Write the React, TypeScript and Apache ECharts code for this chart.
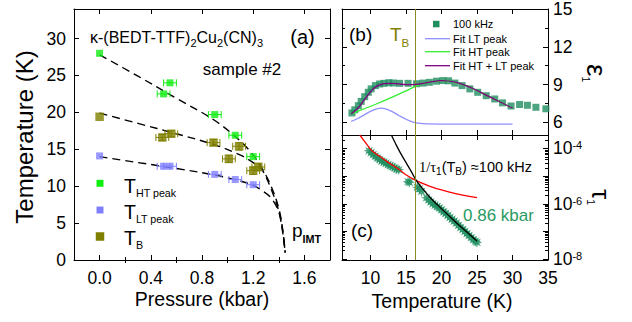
import React, { useEffect, useRef } from "react";
import * as echarts from "echarts";

const SANS = "'Liberation Sans', Arial, Helvetica, sans-serif";
const SERIF = "'Liberation Serif', 'Times New Roman', serif";

// ---------------- Panel (a): p-T phase diagram ----------------
const htPressure = [0.0, 0.5, 0.55, 0.9, 1.06, 1.2];
const htTemperature = [28.0, 22.5, 24.0, 19.7, 16.9, 14.0];
const htPressureErr = [0, 0.05, 0.05, 0.05, 0.05, 0.05];

const ltPressure = [0.0, 0.5, 0.55, 0.9, 1.06, 1.2];
const ltTemperature = [14.1, 12.7, 12.7, 11.6, 10.9, 10.2];
const ltPressureErr = [0, 0.05, 0.05, 0.05, 0.05, 0.05];

const tbPressure = [0.0, 0.49, 0.56, 0.89, 1.09, 1.01, 1.2, 1.24];
const tbTemperature = [19.4, 16.6, 17.1, 15.9, 15.4, 13.7, 12.1, 12.6];
const tbPressureErr = [0, 0.05, 0.05, 0.05, 0.05, 0.05, 0.05, 0.05];
const tbTemperatureErr = [0, 0.4, 0.4, 0.4, 0.5, 0.5, 0.5, 0.5];

const guidePressure = [0, 0.3, 0.6, 0.9, 1.1, 1.2, 1.27, 1.34, 1.4, 1.43, 1.45];
const htGuide = [27.8, 24.9, 21.9, 18.9, 16.1, 14.2, 12.4, 10.0, 7.0, 4.2, 1.0];
const tbGuide = [19.9, 18.5, 17.1, 15.6, 14.2, 13.2, 12.2, 9.6, 6.6, 3.8, 1.0];
const ltGuide = [14.0, 13.2, 12.4, 11.5, 10.7, 10.1, 9.4, 8.4, 6.5, 4.0, 1.0];

const pressureLabels = [0, 0.4, 0.8, 1.2, 1.6];
const pressureMinorTicks = [0.2, 0.6, 1.0, 1.4];
const temperatureLabelsA = [0, 5, 10, 15, 20, 25, 30];

// ---------------- Panel (b): epsilon_1(T) ----------------
const epsTemperature = [7.4, 7.8, 8.3, 8.7, 9.2, 9.7, 10.1, 10.7, 11.3, 11.9, 12.6, 13.2, 14.1, 15.3, 16.5, 17.4, 18.3, 19.3, 20.2, 21.0, 21.9, 22.9, 24.0, 25.1, 26.3, 27.5, 28.6, 29.8, 31.0, 32.1, 33.3, 34.7];
const epsValues = [6.75, 7.0, 7.33, 7.67, 8.04, 8.39, 8.66, 8.92, 9.05, 9.1, 9.15, 9.13, 9.1, 9.1, 9.07, 9.12, 9.18, 9.27, 9.32, 9.3, 9.12, 8.92, 8.66, 8.39, 8.12, 7.86, 7.55, 7.3, 7.42, 7.36, 7.2, 7.08];

const ltFitTemperature = [7.3, 8, 9, 10, 11, 11.5, 12, 13, 14, 15, 16, 17, 18, 20, 25, 30];
const ltFitValues = [6.08, 6.25, 6.55, 6.88, 7.1, 7.14, 7.1, 6.88, 6.55, 6.25, 6.03, 5.92, 5.88, 5.87, 5.87, 5.87];
const htFitTemperature = [7.3, 9, 11, 13, 15, 16.5, 18, 20, 22, 24, 26, 28, 30];
const htFitValues = [6.67, 7.05, 7.5, 7.98, 8.5, 8.9, 9.15, 9.32, 9.2, 8.8, 8.25, 7.7, 7.13];
const sumFitTemperature = [7.3, 8, 8.5, 9, 9.7, 10.3, 10.9, 11.5, 12, 13, 14, 15, 16.5, 18, 20, 22, 24, 26, 28, 30];
const sumFitValues = [6.67, 7.0, 7.3, 7.68, 8.2, 8.6, 8.88, 9.02, 9.08, 9.1, 9.05, 9.0, 9.02, 9.15, 9.32, 9.2, 8.8, 8.25, 7.7, 7.13];

const epsLabels = [6, 9, 12, 15];
const epsMinorTicks = [7.5, 10.5, 13.5];
const temperatureTicksBC = [10, 15, 20, 25, 30];
const temperatureLabelsBC = [10, 15, 20, 25, 30, 35];

const blockingTemperature = 16.3;

// ---------------- Panel (c): tau_1(T) ----------------
const starTemperature = [9.8, 10.1, 10.4, 10.7, 11.0, 11.3, 11.6, 11.9, 12.2, 12.5, 12.8, 13.1, 13.4, 13.7, 14.0, 15.3, 15.5, 16.6, 16.9, 17.2, 17.9, 18.2, 18.5, 18.8, 19.1, 19.4, 19.7, 20.0, 20.3, 20.6, 20.9, 21.2, 21.5, 21.8, 22.1, 22.4, 22.7, 23.0, 23.3, 23.6, 23.9, 24.2, 24.5, 24.8, 25.0];
const starTau = [8.3e-5, 7.2e-5, 6.0e-5, 5.3e-5, 4.5e-5, 4.0e-5, 3.5e-5, 3.2e-5, 2.95e-5, 2.6e-5, 2.4e-5, 2.2e-5, 2.0e-5, 1.8e-5, 1.7e-5, 6.3e-6, 6.0e-6, 4.0e-6, 3.5e-6, 2.8e-6, 1.66e-6, 1.38e-6, 1.17e-6, 1.0e-6, 8.9e-7, 7.9e-7, 7.1e-7, 6.0e-7, 5.1e-7, 4.5e-7, 3.8e-7, 3.2e-7, 2.75e-7, 2.35e-7, 2.0e-7, 1.66e-7, 1.38e-7, 1.17e-7, 1.0e-7, 8.3e-8, 7.1e-8, 6.0e-8, 5.0e-8, 4.4e-8, 4.0e-8];

const redTemperature = [8.5, 9.5, 10.1, 11.3, 12.5, 14.1, 15.0, 16.3, 18.3, 20.0, 22.0, 25.0];
const redTau = [3.1e-4, 1.41e-4, 8.9e-5, 5.25e-5, 3.16e-5, 1.7e-5, 1.12e-5, 7.2e-6, 4.4e-6, 3.16e-6, 2.34e-6, 1.66e-6];
const blackTemperature = [12.95, 13.5, 14.2, 15.0, 15.8, 16.4, 17.5, 18.5, 19.7, 21.0, 22.5, 24.0, 25.0];
const blackTau = [3.1e-4, 1.58e-4, 7.1e-5, 3.16e-5, 1.41e-5, 7.4e-6, 3.16e-6, 1.58e-6, 7.9e-7, 3.8e-7, 1.66e-7, 7.6e-8, 4.5e-8];

const tauMin = 0.92e-8;
const tauMax = 3.1e-4;

// ---------------- colours ----------------
const C_HT = "#11ee11";
const C_LT = "#8080ff";
const C_TB = "#808000";
const C_TB_LINE = "#8c8c22";
const C_DATA = "#1f8f5f";
const C_FIT_LT = "#9090ff";
const C_FIT_HT = "#33ee33";
const C_FIT_SUM = "#800080";

const TICK_FONT = 17.5;

function zip(a: number[], b: number[]) {
  return a.map((v, i) => [v, b[i]]);
}

// ---------- text measurement & composed texts (sub/superscripts) ----------
let measureCtx: CanvasRenderingContext2D | null = null;
function measure(text: string, size: number, family: string, weight = "normal") {
  if (!measureCtx && typeof document !== "undefined") {
    measureCtx = document.createElement("canvas").getContext("2d");
  }
  if (!measureCtx) return text.length * size * 0.55;
  measureCtx.font = `${weight} ${size}px ${family}`;
  return measureCtx.measureText(text).width;
}

type Run = { t: string; size: number; dy?: number; family?: string; fill?: string; weight?: string };

// (ax, ay) = point on the baseline of the main text
function composite(ax: number, ay: number, runs: Run[], opts: any = {}) {
  const widths = runs.map((r) => measure(r.t, r.size, r.family || SANS, r.weight || "normal"));
  const total = widths.reduce((a, b) => a + b, 0);
  let x = opts.align === "center" ? -total / 2 : 0;
  const children = runs.map((r, i) => {
    const el = {
      type: "text",
      x,
      y: (r.dy || 0) - 0.3465 * r.size,
      silent: true,
      style: {
        text: r.t,
        fontSize: r.size,
        fontFamily: r.family || SANS,
        fontWeight: r.weight || "normal",
        fill: r.fill || opts.fill || "#000",
        align: "left",
        verticalAlign: "middle",
      },
    };
    x += widths[i];
    return el;
  });
  return { type: "group", x: ax, y: ay, rotation: opts.rotation || 0, silent: true, children };
}

function supRich(main: number, sup: number, raise: number) {
  const pad = Math.max(0, raise - 0.85 * (main - sup));
  return {
    m: { fontSize: main, lineHeight: main, padding: [pad, 0, 0, 0], verticalAlign: "bottom", fontFamily: SANS, color: "#000" },
    p: { fontSize: sup, lineHeight: sup, verticalAlign: "top", fontFamily: SANS, color: "#000" },
  };
}

function majorAxis(o: any) {
  const ax: any = {
    type: o.type || "value",
    gridIndex: o.grid,
    position: o.position,
    min: o.min,
    max: o.max,
    axisLine: { show: true, onZero: false, lineStyle: { color: "#000", width: 1 } },
    axisTick: { show: true, inside: true, length: 5, lineStyle: { color: "#000", width: 1 } },
    axisLabel: { show: false },
    splitLine: { show: false },
  };
  if (o.type === "log") ax.logBase = 10;
  if (o.ticks) ax.axisTick.customValues = o.ticks;
  if (o.labels) {
    ax.axisLabel = {
      show: true,
      color: "#000",
      fontFamily: SANS,
      fontSize: TICK_FONT,
      showMinLabel: true,
      showMaxLabel: true,
      ...o.labels,
    };
  }
  return ax;
}

function minorAxis(grid: number, position: string, min: number, max: number, ticks: number[]) {
  return {
    type: "value",
    gridIndex: grid,
    position,
    min,
    max,
    axisLine: { show: false },
    axisTick: { show: true, inside: true, length: 3, customValues: ticks, lineStyle: { color: "#000", width: 1 } },
    axisLabel: { show: false },
    splitLine: { show: false },
  };
}

function starPath(points: number, outer: number, inner: number) {
  let d = "";
  for (let i = 0; i < points * 2; i++) {
    const r = i % 2 === 0 ? outer : inner;
    const a = (Math.PI * i) / points - Math.PI / 2;
    d += (i === 0 ? "M" : "L") + (r * Math.cos(a)).toFixed(2) + "," + (r * Math.sin(a)).toFixed(2);
  }
  return "path://" + d + "Z";
}

function errorBars(xs: number[], ys: number[], exs: number[], eys: number[], color: string) {
  return {
    type: "custom",
    xAxisIndex: 0,
    yAxisIndex: 0,
    data: xs.map((x, i) => [x, ys[i], exs[i], eys[i]]),
    encode: { x: 0, y: 1 },
    z: 3,
    renderItem: (_params: any, api: any) => {
      const x = api.value(0);
      const y = api.value(1);
      const ex = api.value(2);
      const ey = api.value(3);
      const cap = 3.5;
      const st = { stroke: color, lineWidth: 1 };
      const children: any[] = [];
      if (ex > 0) {
        const a = api.coord([x - ex, y]);
        const b = api.coord([x + ex, y]);
        children.push({ type: "line", shape: { x1: a[0], y1: a[1], x2: b[0], y2: b[1] }, style: st });
        children.push({ type: "line", shape: { x1: a[0], y1: a[1] - cap, x2: a[0], y2: a[1] + cap }, style: st });
        children.push({ type: "line", shape: { x1: b[0], y1: b[1] - cap, x2: b[0], y2: b[1] + cap }, style: st });
      }
      if (ey > 0) {
        const a = api.coord([x, y - ey]);
        const b = api.coord([x, y + ey]);
        children.push({ type: "line", shape: { x1: a[0], y1: a[1], x2: b[0], y2: b[1] }, style: st });
        children.push({ type: "line", shape: { x1: a[0] - cap, y1: a[1], x2: a[0] + cap, y2: a[1] }, style: st });
        children.push({ type: "line", shape: { x1: b[0] - cap, y1: b[1], x2: b[0] + cap, y2: b[1] }, style: st });
      }
      return { type: "group", children };
    },
  };
}

function guideLine(values: number[]) {
  return {
    type: "line",
    xAxisIndex: 0,
    yAxisIndex: 0,
    data: zip(guidePressure, values),
    smooth: 0.35,
    showSymbol: false,
    symbol: "none",
    lineStyle: { color: "#000", width: 1.4, type: [8, 5] },
    z: 2,
  };
}

function tbMarkLine() {
  return {
    silent: true,
    symbol: ["none", "none"],
    label: { show: false },
    lineStyle: { color: C_TB_LINE, width: 1, type: "solid" },
    data: [{ xAxis: blockingTemperature }],
  };
}

function buildOption() {
  const grids = [
    { left: 74, top: 9, width: 256, height: 251 },
    { left: 342, top: 9, width: 206, height: 126 },
    { left: 342, top: 135, width: 206, height: 125 },
  ].map((g) => ({ ...g, containLabel: false, outerBoundsMode: "none", show: false }));

  const lgMin = Math.log10(tauMin);
  const lgMax = Math.log10(tauMax);
  const tauMinor: number[] = [];
  for (let e = -9; e <= -4; e++) {
    for (let k = 2; k <= 9; k++) {
      const v = Math.log10(k) + e;
      if (v > lgMin && v < lgMax) tauMinor.push(v);
    }
  }

  const xAxis = [
    // 0: (a) bottom
    majorAxis({
      grid: 0, position: "bottom", min: -0.2, max: 1.8, ticks: pressureLabels,
      labels: { customValues: pressureLabels, formatter: (v: number) => v.toFixed(1), margin: 9 },
    }),
    minorAxis(0, "bottom", -0.2, 1.8, pressureMinorTicks),
    majorAxis({ grid: 0, position: "top", min: -0.2, max: 1.8, ticks: pressureLabels }),
    minorAxis(0, "top", -0.2, 1.8, pressureMinorTicks),
    // 4: (b) bottom
    majorAxis({ grid: 1, position: "bottom", min: 6, max: 35, ticks: temperatureTicksBC }),
    majorAxis({ grid: 1, position: "top", min: 6, max: 35, ticks: temperatureTicksBC }),
    // 6: (c) bottom
    majorAxis({
      grid: 2, position: "bottom", min: 6, max: 35, ticks: temperatureTicksBC,
      labels: { customValues: temperatureLabelsBC, formatter: (v: number) => String(v), margin: 9 },
    }),
    majorAxis({ grid: 2, position: "top", min: 6, max: 35, ticks: temperatureTicksBC }),
  ];

  const tauFormatter = (v: number) => {
    const lg = Math.log10(v);
    const e = Math.round(lg);
    if (Math.abs(lg - e) > 0.01) return "";
    return e % 2 === 0 ? `{m|10}{p|${e}}` : "";
  };

  const yAxis = [
    // 0: (a) left
    majorAxis({
      grid: 0, position: "left", min: 0, max: 34, ticks: temperatureLabelsA,
      labels: { customValues: temperatureLabelsA, formatter: (v: number) => String(v), margin: 8 },
    }),
    majorAxis({ grid: 0, position: "right", min: 0, max: 34, ticks: temperatureLabelsA }),
    // 2: (b) left
    majorAxis({ grid: 1, position: "left", min: 5, max: 15, ticks: epsLabels }),
    minorAxis(1, "left", 5, 15, epsMinorTicks),
    // 4: (b) right with labels
    majorAxis({
      grid: 1, position: "right", min: 5, max: 15, ticks: epsLabels,
      labels: { customValues: epsLabels, formatter: (v: number) => String(v), margin: 5 },
    }),
    minorAxis(1, "right", 5, 15, epsMinorTicks),
    // 6: (c) left (log)
    majorAxis({ grid: 2, position: "left", type: "log", min: tauMin, max: tauMax }),
    minorAxis(2, "left", lgMin, lgMax, tauMinor),
    majorAxis({
      grid: 2, position: "right", type: "log", min: tauMin, max: tauMax,
      labels: { formatter: tauFormatter, margin: 5, rich: supRich(TICK_FONT, 11, 6.5) },
    }),
    minorAxis(2, "right", lgMin, lgMax, tauMinor),
  ];

  const series: any[] = [
    guideLine(htGuide),
    guideLine(tbGuide),
    guideLine(ltGuide),
    errorBars(htPressure, htTemperature, htPressureErr, htPressure.map(() => 0), C_HT),
    errorBars(ltPressure, ltTemperature, ltPressureErr, ltPressure.map(() => 0), C_LT),
    errorBars(tbPressure, tbTemperature, tbPressureErr, tbTemperatureErr, C_TB),
    {
      type: "scatter", xAxisIndex: 0, yAxisIndex: 0, data: zip(htPressure, htTemperature),
      symbol: "rect", symbolSize: 7, itemStyle: { color: C_HT }, z: 4,
    },
    {
      type: "scatter", xAxisIndex: 0, yAxisIndex: 0, data: zip(ltPressure, ltTemperature),
      symbol: "rect", symbolSize: 7, itemStyle: { color: C_LT }, z: 4,
    },
    {
      type: "scatter", xAxisIndex: 0, yAxisIndex: 0, data: zip(tbPressure, tbTemperature),
      symbol: "rect", symbolSize: 8.5, itemStyle: { color: C_TB }, z: 4,
    },
    // (b)
    {
      type: "scatter", xAxisIndex: 4, yAxisIndex: 2, data: zip(epsTemperature, epsValues),
      symbol: "rect", symbolSize: 7, itemStyle: { color: C_DATA }, z: 3,
      markLine: tbMarkLine(),
    },
    {
      type: "line", xAxisIndex: 4, yAxisIndex: 2, data: zip(ltFitTemperature, ltFitValues),
      smooth: 0.4, showSymbol: false, symbol: "none", lineStyle: { color: C_FIT_LT, width: 1.3 }, z: 4,
    },
    {
      type: "line", xAxisIndex: 4, yAxisIndex: 2, data: zip(htFitTemperature, htFitValues),
      smooth: 0.4, showSymbol: false, symbol: "none", lineStyle: { color: C_FIT_HT, width: 1.3 }, z: 4,
    },
    {
      type: "line", xAxisIndex: 4, yAxisIndex: 2, data: zip(sumFitTemperature, sumFitValues),
      smooth: 0.4, showSymbol: false, symbol: "none", lineStyle: { color: C_FIT_SUM, width: 1.3 }, z: 5,
    },
    // (c)
    {
      type: "scatter", xAxisIndex: 6, yAxisIndex: 6, data: zip(starTemperature, starTau),
      symbol: starPath(8, 10, 4.5), symbolSize: 11, itemStyle: { color: C_DATA }, z: 3,
      markLine: tbMarkLine(),
    },
    {
      type: "line", xAxisIndex: 6, yAxisIndex: 6, data: zip(redTemperature, redTau),
      smooth: 0.4, showSymbol: false, symbol: "none", lineStyle: { color: "#ff0000", width: 1.3 }, z: 4,
    },
    {
      type: "line", xAxisIndex: 6, yAxisIndex: 6, data: zip(blackTemperature, blackTau),
      smooth: 0.4, showSymbol: false, symbol: "none", lineStyle: { color: "#000", width: 1.3 }, z: 4,
    },
  ];

  const txt = (text: string, x: number, y: number, size: number, extra: any = {}) => ({
    type: "text",
    x,
    y,
    silent: true,
    rotation: extra.rotation || 0,
    style: {
      text,
      fontSize: size,
      fontFamily: SANS,
      fill: extra.fill || "#000",
      align: extra.align || "left",
      verticalAlign: "middle",
    },
  });

  const legendRow = (label: string, yBase: number) =>
    composite(124, yBase, [
      { t: "T", size: 19.5 },
      { t: label, size: 10.7, dy: 4 },
    ]);

  const graphic: any[] = [
    // axis titles
    txt("Temperature (K)", 24, 137, 24, { align: "center", rotation: Math.PI / 2 }),
    txt("Pressure (kbar)", 202, 299, 19.5, { align: "center" }),
    txt("Temperature (K)", 442, 301, 19.5, { align: "center" }),
    composite(586.5, 64, [{ t: "ε", size: 28 }, { t: "1", size: 10.5, dy: 4 }], { rotation: -Math.PI / 2 }),
    composite(591.5, 189, [{ t: "τ", size: 26 }, { t: "1", size: 10.5, dy: 4 }], { rotation: -Math.PI / 2 }),
    // panel (a)
    composite(90, 42.7, [
      { t: "κ-(BEDT-TTF)", size: 16 },
      { t: "2", size: 11, dy: 4 },
      { t: "Cu", size: 16 },
      { t: "2", size: 11, dy: 4 },
      { t: "(CN)", size: 16 },
      { t: "3", size: 11, dy: 4 },
    ]),
    txt("(a)", 302.5, 36.5, 20, { align: "center" }),
    txt("sample #2", 242, 69, 17, { align: "center" }),
    { type: "rect", x: 96.5, y: 179.8, shape: { width: 7, height: 7 }, style: { fill: C_HT }, silent: true },
    { type: "rect", x: 96.5, y: 206.5, shape: { width: 7, height: 7 }, style: { fill: C_LT }, silent: true },
    { type: "rect", x: 95.75, y: 232.25, shape: { width: 8.5, height: 8.5 }, style: { fill: C_TB }, silent: true },
    legendRow("HT peak", 192.5),
    legendRow("LT peak", 218.5),
    legendRow("B", 245),
    composite(292, 237, [
      { t: "p", size: 19 },
      { t: "IMT", size: 10.8, dy: 5.5, weight: "bold" },
    ]),
    // panel (b)
    txt("(b)", 349, 34, 19),
    composite(390, 40.7, [
      { t: "T", size: 19 },
      { t: "B", size: 11.5, dy: 6 },
    ], { fill: C_TB }),
    { type: "rect", x: 433, y: 20.8, shape: { width: 6.5, height: 6.5 }, style: { fill: C_DATA }, silent: true },
    txt("100 kHz", 453, 24, 11),
    { type: "line", shape: { x1: 425, y1: 38.7, x2: 450, y2: 38.7 }, style: { stroke: C_FIT_LT, lineWidth: 1.3 }, silent: true },
    txt("Fit LT peak", 453, 38.7, 11),
    { type: "line", shape: { x1: 425, y1: 51.7, x2: 450, y2: 51.7 }, style: { stroke: C_FIT_HT, lineWidth: 1.3 }, silent: true },
    txt("Fit HT peak", 453, 51.7, 11),
    { type: "line", shape: { x1: 425, y1: 65.7, x2: 450, y2: 65.7 }, style: { stroke: C_FIT_SUM, lineWidth: 1.3 }, silent: true },
    txt("Fit HT + LT peak", 453, 65.7, 11),
    // panel (c)
    txt("(c)", 351, 230, 19),
    txt("0.86 kbar", 463, 215, 17, { fill: "#2a9a62" }),
    composite(419, 171.7, [
      { t: "1/τ", size: 14.5, family: SERIF },
      { t: "1", size: 10, dy: 3 },
      { t: "(T", size: 14.5 },
      { t: "B", size: 10, dy: 3 },
      { t: ") ≈100 kHz", size: 14.5 },
    ]),
  ];

  return {
    animation: false,
    backgroundColor: "#fff",
    grid: grids,
    xAxis,
    yAxis,
    series,
    graphic: { elements: graphic },
  };
}

export default function App() {
  const ref = useRef<HTMLDivElement>(null);
  useEffect(() => {
    if (!ref.current) return;
    const chart = echarts.init(ref.current, undefined, { renderer: "svg" });
    chart.setOption(buildOption() as any);
    return () => {
      chart.dispose();
    };
  }, []);
  return (
    <div
      ref={ref}
      style={{ position: "fixed", left: 0, top: 0, width: 632, height: 322, background: "#fff" }}
    />
  );
}
